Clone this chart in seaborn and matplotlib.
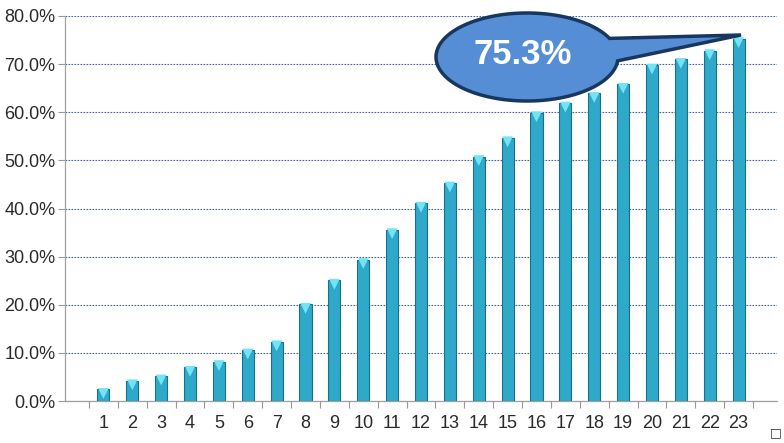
import numpy as np
import matplotlib
matplotlib.use("Agg")
import matplotlib.pyplot as plt
import matplotlib.transforms as mtransforms
from matplotlib.path import Path
from matplotlib.patches import PathPatch
import seaborn as sns

# data
days = [str(i) for i in range(1, 24)]
rates = [2.4, 4.2, 5.2, 7.0, 8.2, 10.6, 12.3, 20.1, 25.1, 29.4, 35.6, 41.1,
         45.3, 50.8, 54.7, 59.9, 61.9, 63.9, 65.8, 69.8, 71.0, 72.8, 75.3]
callout_text = "75.3%"
yticks = [0, 10, 20, 30, 40, 50, 60, 70, 80]

sns.set_style("white")
plt.rcParams['font.family'] = ['Liberation Sans', 'DejaVu Sans']

fig = plt.figure(figsize=(7.84, 4.43), dpi=100)
ax = fig.add_axes([65 / 784, 42 / 443, 712 / 784, 385 / 443])

sns.barplot(x=days, y=rates, color='#2fa9ca', width=0.42,
            edgecolor='#1b6f87', linewidth=0.8, saturation=1, ax=ax, zorder=3)

# light bevel on bar tops
tri_off = mtransforms.offset_copy(ax.transData, fig=fig, x=0, y=-4, units='dots')
ax.scatter(np.arange(len(days)), rates, marker='v', s=60, color='#74e3f6',
           edgecolors='none', transform=tri_off, zorder=4)

ax.set_ylim(0, 80)
ax.set_yticks(yticks)
ax.set_yticklabels([f"{v:.1f}%" for v in yticks])
ax.yaxis.grid(True, color='#3f65a0', linestyle=(0, (1.5, 1.2)), linewidth=0.8)
ax.set_axisbelow(True)

ax.set_xticks(np.arange(-0.5, len(days), 1.0), minor=True)
ax.tick_params(axis='x', which='major', length=0, pad=10, labelsize=13, labelcolor='#2a2a2a')
ax.tick_params(axis='x', which='minor', length=5, color='#999999', width=0.8, direction='out', bottom=True)
ax.tick_params(axis='y', length=5, color='#999999', width=0.8, direction='out', left=True,
               labelsize=13, labelcolor='#2a2a2a', pad=2)

for side in ['top', 'right']:
    ax.spines[side].set_visible(False)
for side in ['left', 'bottom']:
    ax.spines[side].set_color('#a0a0a0')
    ax.spines[side].set_linewidth(0.9)
ax.set_xlabel('')
ax.set_ylabel('')

# speech-bubble callout (pixel layout, y from top)
W, H = 784, 443
cx, cy, a, b = 527, 57, 91, 44
tip = (741, 35)
angles = np.radians(np.linspace(25, 355, 120))
ex = cx + a * np.cos(angles)
ey = cy - b * np.sin(angles)
px = np.concatenate([[tip[0]], ex, [tip[0]]])
py = np.concatenate([[tip[1]], ey, [tip[1]]])
verts = np.column_stack([px / W, 1 - py / H])
codes = [Path.MOVETO] + [Path.LINETO] * (len(verts) - 2) + [Path.CLOSEPOLY]
bubble = PathPatch(Path(verts, codes), transform=fig.transFigure,
                   facecolor='#558ed5', edgecolor='#17375e', linewidth=2.5,
                   joinstyle='miter', zorder=10)
fig.patches.append(bubble)
fig.text(523 / W, 1 - 55 / H, callout_text, ha='center', va='center',
         color='white', fontsize=25, fontweight='bold',
         family=['Liberation Sans', 'DejaVu Sans'], zorder=11)

fig.text(776 / W, 1 - 433 / H, '\u25a1', ha='center', va='center', fontsize=9,
         color='#333333', family=['DejaVu Sans'])

fig.savefig('out.png', dpi=100)
